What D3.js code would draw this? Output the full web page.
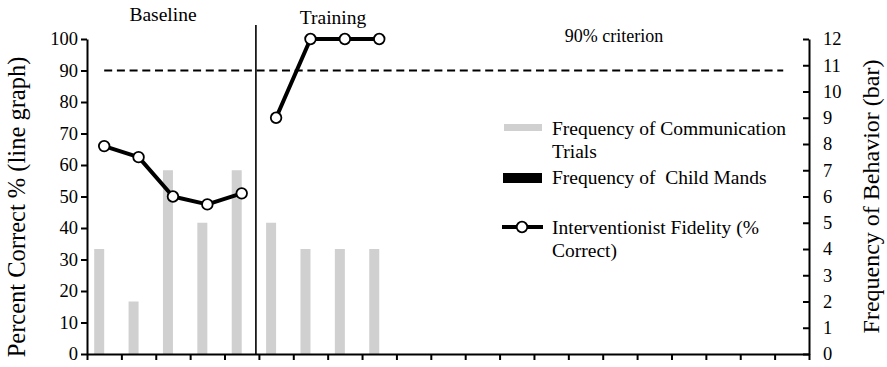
<!DOCTYPE html>
<html>
<head>
<meta charset="utf-8">
<script src="https://cdn.jsdelivr.net/npm/d3@7"></script>
<style>
  body { margin: 0; background: #fff; }
  svg { display: block; font-family: "Liberation Serif", "Times New Roman", serif; }
</style>
</head>
<body>
<div id="container"></div>
<script>
// sessions on the x axis (21 slots, no labels)
const sessions = d3.range(1, 22);

// bars (right axis) : frequency of communication trials / child mands
const commTrials = [4, 2, 7, 5, 7, 5, 4, 4, 4];
const childMands = [0, 0, 0, 0, 0, 0, 0, 0, 0];

// line (left axis) : interventionist fidelity, one array per phase
const fidelityBaseline = [66, 62.5, 50, 47.5, 51];
const fidelityTraining = [75, 100, 100, 100];

const phases = ["Baseline", "Training"];
const criterion = 90;
const leftTicks = d3.range(0, 101, 10);
const rightTicks = d3.range(0, 13, 1);
const legendLabels = [
  ["Frequency of Communication", "Trials"],
  ["Frequency of  Child Mands"],
  ["Interventionist Fidelity (%", "Correct)"]
];

const width = 887, height = 367;
const mLeft = 87, mRight = 809, mTop = 39, mBottom = 354;

const svg = d3.select("#container").append("svg")
  .attr("width", width)
  .attr("height", height);

// echelles
const xEdge = d3.scaleLinear().domain([0, sessions.length]).range([mLeft, mRight]);
const xMid = i => xEdge(i + 0.5);
const yLeft = d3.scaleLinear().domain([0, 100]).range([mBottom, mTop]);
const yRight = d3.scaleLinear().domain([0, 12]).range([mBottom, mTop]);
const barW = 10;

// bars
const barData = commTrials.map((v, i) => ({ i, v, m: childMands[i] }));
svg.append("g").selectAll("rect")
  .data(barData)
  .join("rect")
  .attr("x", d => xMid(d.i) - barW)
  .attr("y", d => yRight(d.v))
  .attr("width", barW)
  .attr("height", d => yRight(0) - yRight(d.v))
  .attr("fill", "#d0d0d0");
svg.append("g").selectAll("rect")
  .data(barData)
  .join("rect")
  .attr("x", d => xMid(d.i))
  .attr("y", d => yRight(d.m))
  .attr("width", barW)
  .attr("height", d => yRight(0) - yRight(d.m))
  .attr("fill", "#000");

// criterion line (dashed)
svg.append("line")
  .attr("x1", xMid(0))
  .attr("x2", xEdge(20.25))
  .attr("y1", yLeft(criterion))
  .attr("y2", yLeft(criterion))
  .attr("stroke", "#000")
  .attr("stroke-width", 2)
  .attr("stroke-dasharray", "8,4.7");

svg.append("text")
  .attr("x", 614)
  .attr("y", 42)
  .attr("text-anchor", "middle")
  .attr("font-size", 18)
  .text("90% criterion");

// phase change line
const phaseX = xEdge(fidelityBaseline.length) - 3;
svg.append("line")
  .attr("x1", phaseX).attr("x2", phaseX)
  .attr("y1", 25).attr("y2", mBottom)
  .attr("stroke", "#000")
  .attr("stroke-width", 1.6);

svg.append("text")
  .attr("x", 163).attr("y", 21)
  .attr("text-anchor", "middle")
  .attr("font-size", 19.5)
  .text(phases[0]);
svg.append("text")
  .attr("x", 333).attr("y", 24)
  .attr("text-anchor", "middle")
  .attr("font-size", 19.5)
  .text(phases[1]);

// fidelity lines
const line = d3.line().x(d => xMid(d.i)).y(d => yLeft(d.v));
const segs = [
  fidelityBaseline.map((v, k) => ({ i: k, v })),
  fidelityTraining.map((v, k) => ({ i: k + fidelityBaseline.length, v }))
];
segs.forEach(s => {
  svg.append("path")
    .datum(s)
    .attr("d", line)
    .attr("fill", "none")
    .attr("stroke", "#000")
    .attr("stroke-width", 4)
    .attr("stroke-linejoin", "round");
  svg.append("g").selectAll("circle")
    .data(s)
    .join("circle")
    .attr("cx", d => xMid(d.i))
    .attr("cy", d => yLeft(d.v))
    .attr("r", 5.3)
    .attr("fill", "#fff")
    .attr("stroke", "#000")
    .attr("stroke-width", 1.8);
});

// axes
const axLeft = svg.append("g")
  .attr("transform", `translate(${mLeft},0)`)
  .call(d3.axisLeft(yLeft).tickValues(leftTicks).tickSize(6).tickSizeOuter(0).tickPadding(3));
const axRight = svg.append("g")
  .attr("transform", `translate(${mRight},0)`)
  .call(d3.axisRight(yRight).tickValues(rightTicks).tickSizeInner(-6).tickSizeOuter(0).tickPadding(14));
const axBottom = svg.append("g")
  .attr("transform", `translate(0,${mBottom})`)
  .call(d3.axisBottom(xEdge).tickValues(d3.range(sessions.length + 1)).tickFormat("").tickSize(6).tickSizeOuter(0));

[axLeft, axRight, axBottom].forEach(a => {
  a.selectAll("path, line").attr("stroke", "#000").attr("stroke-width", 2);
  a.selectAll("text")
    .attr("fill", "#000")
    .attr("font-size", 18.5)
    .attr("font-family", "Liberation Serif, Times New Roman, serif");
});

// axis titles
svg.append("text")
  .attr("transform", `translate(25,207) rotate(-90)`)
  .attr("text-anchor", "middle")
  .attr("font-size", 24.5)
  .text("Percent Correct % (line graph)");
svg.append("text")
  .attr("transform", `translate(879,${(mTop + mBottom) / 2}) rotate(-90)`)
  .attr("text-anchor", "middle")
  .attr("font-size", 24)
  .text("Frequency of Behavior (bar)");

// legende
const lg = svg.append("g");
lg.append("rect").attr("x", 504).attr("y", 124).attr("width", 38).attr("height", 7).attr("fill", "#d0d0d0");
lg.append("rect").attr("x", 503).attr("y", 173).attr("width", 39).attr("height", 10).attr("fill", "#000");
lg.append("line").attr("x1", 502).attr("x2", 543).attr("y1", 227).attr("y2", 227)
  .attr("stroke", "#000").attr("stroke-width", 4);
lg.append("circle").attr("cx", 522).attr("cy", 227).attr("r", 5.3)
  .attr("fill", "#fff").attr("stroke", "#000").attr("stroke-width", 1.8);

const legendY = [135, 184, 234];
legendLabels.forEach((lines, k) => {
  const t = lg.append("text")
    .attr("x", 552)
    .attr("y", legendY[k])
    .attr("font-size", 19.5)
    .style("white-space", "pre");
  lines.forEach((s, j) => {
    t.append("tspan").attr("x", 552).attr("dy", j === 0 ? 0 : 23).text(s);
  });
});
</script>
</body>
</html>
